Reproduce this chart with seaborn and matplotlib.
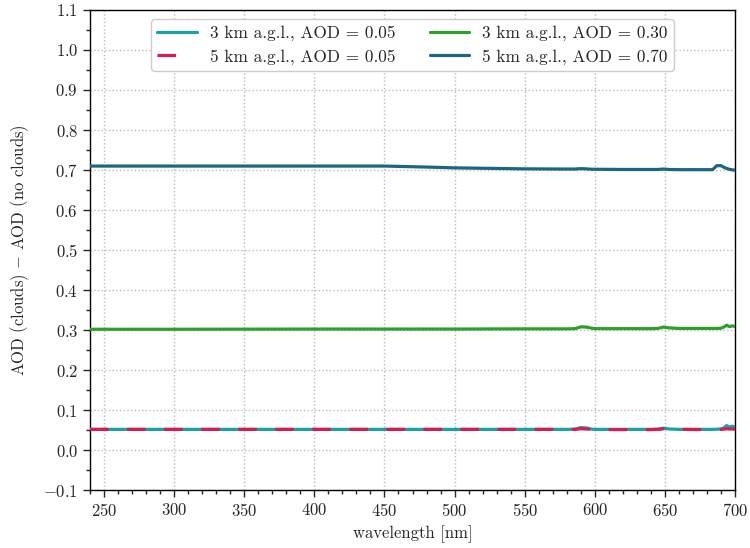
import numpy as np
import pandas as pd
import matplotlib
matplotlib.use("Agg")
import matplotlib.pyplot as plt
import seaborn as sns
from matplotlib.ticker import MultipleLocator

## data
wavelength = [240, 300, 400, 450, 480, 500, 550, 580, 586, 590, 594, 598, 600,
              620, 640, 645, 649, 653, 660, 680, 684, 687, 690, 692, 694, 696, 698, 700]

aod_3km_005 = [0.0525, 0.0525, 0.0525, 0.0525, 0.0525, 0.0525, 0.0525, 0.0525, 0.0530, 0.0570,
               0.0560, 0.0530, 0.0525, 0.0525, 0.0525, 0.0530, 0.0555, 0.0535, 0.0525, 0.0525,
               0.0525, 0.0530, 0.0535, 0.0560, 0.0620, 0.0580, 0.0605, 0.0585]
aod_5km_005 = [0.0525, 0.0525, 0.0525, 0.0525, 0.0525, 0.0525, 0.0525, 0.0525, 0.0525, 0.0540,
               0.0535, 0.0525, 0.0520, 0.0520, 0.0520, 0.0525, 0.0540, 0.0530, 0.0525, 0.0520,
               0.0520, 0.0525, 0.0525, 0.0530, 0.0540, 0.0535, 0.0535, 0.0530]
aod_3km_030 = [0.3025, 0.3025, 0.3030, 0.3030, 0.3030, 0.3030, 0.3035, 0.3035, 0.3040, 0.3085,
               0.3080, 0.3050, 0.3040, 0.3040, 0.3040, 0.3045, 0.3080, 0.3060, 0.3045, 0.3045,
               0.3045, 0.3045, 0.3050, 0.3080, 0.3125, 0.3090, 0.3110, 0.3095]
aod_5km_070 = [0.7100, 0.7100, 0.7100, 0.7100, 0.7075, 0.7055, 0.7030, 0.7025, 0.7025, 0.7035,
               0.7030, 0.7020, 0.7020, 0.7015, 0.7015, 0.7015, 0.7025, 0.7015, 0.7010, 0.7010,
               0.7010, 0.7110, 0.7110, 0.7070, 0.7040, 0.7020, 0.7005, 0.7000]

labels = ["3 km a.g.l., AOD = 0.05", "5 km a.g.l., AOD = 0.05",
          "3 km a.g.l., AOD = 0.30", "5 km a.g.l., AOD = 0.70"]
series = [aod_3km_005, aod_5km_005, aod_3km_030, aod_5km_070]
colors = ["#1aa1a6", "#d81b50", "#2ca02c", "#1b6682"]

df = pd.concat([pd.DataFrame({"wavelength": wavelength, "dAOD": s, "case": lab})
                for s, lab in zip(series, labels)], ignore_index=True)

sns.set_style("ticks")
plt.rcParams.update({
    "font.family": "serif",
    "font.serif": ["cmr10"],
    "mathtext.fontset": "cm",
    "axes.formatter.use_mathtext": True,
    "axes.unicode_minus": True,
    "font.size": 11,
    "axes.linewidth": 1.0,
})

fig, ax = plt.subplots(figsize=(7.5, 5.48), dpi=100)

for i, lab in enumerate(labels):
    sub = df[df["case"] == lab]
    sns.lineplot(data=sub, x="wavelength", y="dAOD", ax=ax, color=colors[i],
                 linewidth=2.3, label=lab, zorder=3 + i)
# red dashed line on top
ax.lines[1].set_dashes((5.8, 5.8))
ax.lines[1].set_zorder(10)

ax.set_xlim(240, 700)
ax.set_ylim(-0.1, 1.1)
ax.xaxis.set_major_locator(MultipleLocator(50))
ax.xaxis.set_minor_locator(MultipleLocator(10))
ax.yaxis.set_major_locator(MultipleLocator(0.1))
ax.yaxis.set_minor_locator(MultipleLocator(0.05))
ax.tick_params(which="major", direction="out", length=5, width=1, labelsize=12)
ax.tick_params(which="minor", direction="out", length=3, width=1)
ax.grid(True, which="major", linestyle=":", color="#bbbbbb", linewidth=1.0)
for sp in ax.spines.values():
    sp.set_color("black")

ax.set_xlabel("wavelength [nm]", fontsize=12)
ax.set_ylabel("AOD (clouds) $-$ AOD (no clouds)", fontsize=12, labelpad=9)

handles, labs = ax.get_legend_handles_labels()
leg = ax.legend(handles, labs, loc="upper center",
                ncol=2, fontsize=12.4, frameon=True, fancybox=True, edgecolor="#cccccc",
                framealpha=1.0, handlelength=2.3, handletextpad=0.75, columnspacing=2.0,
                borderpad=0.35, labelspacing=0.45, borderaxespad=0.55,
                bbox_to_anchor=(0.5, 1.0))
leg.get_lines()[1].set_dashes((5.8, 10))

fig.subplots_adjust(left=0.12, right=0.98, top=0.982, bottom=0.105)
fig.savefig("out.png", dpi=100)
